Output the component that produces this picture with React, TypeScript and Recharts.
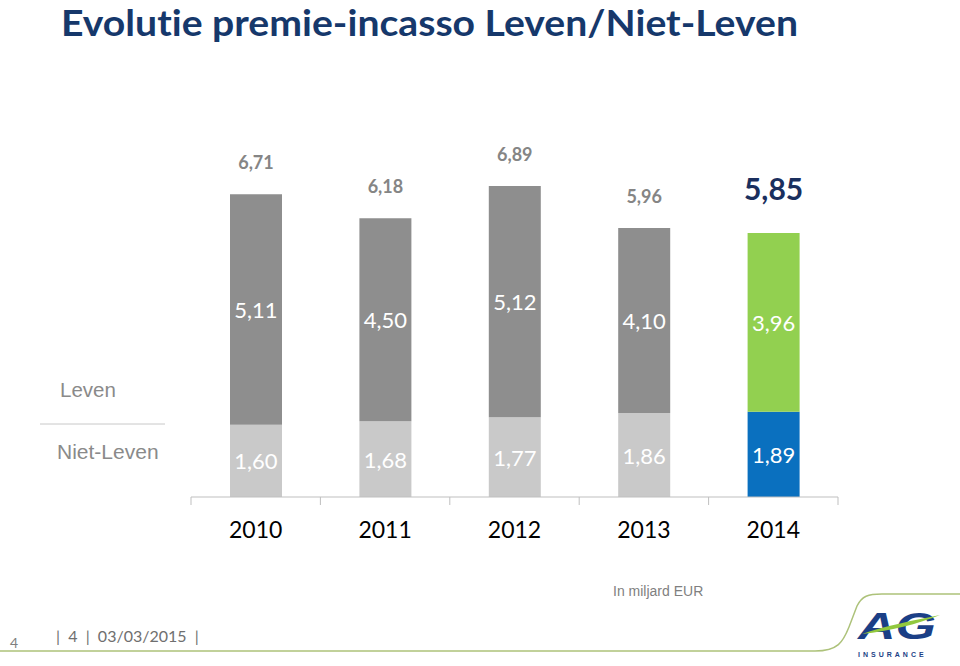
import React from 'react';
import { BarChart, Bar, XAxis, YAxis, Cell, LabelList } from 'recharts';

const years = ['2010', '2011', '2012', '2013', '2014'];
const nietLeven = [1.6, 1.68, 1.77, 1.86, 1.89];
const leven = [5.11, 4.5, 5.12, 4.1, 3.96];
const totals = [6.71, 6.18, 6.89, 5.96, 5.85];

const W = 960;
const H = 666;
const M = { top: 136, right: 122, bottom: 139, left: 191 };
const X_AXIS_H = 30;
const PLOT_W = W - M.left - M.right;
const BAND = PLOT_W / years.length;
const LAST = years.length - 1;

const CAL = 'Lato, "Noto Sans", sans-serif';
const ARIAL = '"Liberation Sans", Arial, sans-serif';

const fmt = (v: number) => v.toFixed(2).replace('.', ',');

const data = years.map((y, i) => ({
  year: y,
  nietLeven: nietLeven[i],
  leven: leven[i],
  total: totals[i],
}));

const InsideLabel = (props: any) => {
  const { x, y, width, height, value } = props;
  return (
    <text
      x={Number(x) + Number(width) / 2}
      y={Number(y) + Number(height) / 2}
      textAnchor="middle"
      dominantBaseline="central"
      fill="#ffffff"
      fontFamily={CAL}
      fontSize={22}
    >
      {fmt(Number(value))}
    </text>
  );
};

const TotalLabel = (props: any) => {
  const { x, y, width, value, index } = props;
  const hi = index === LAST;
  return (
    <text
      x={Number(x) + Number(width) / 2}
      y={Number(y) - (hi ? 45 : 32)}
      textAnchor="middle"
      dominantBaseline="central"
      fill={hi ? '#1a2f5e' : '#858585'}
      fontFamily={CAL}
      fontWeight={700}
      fontSize={hi ? 30 : 18}
    >
      {fmt(Number(value))}
    </text>
  );
};

const YearTick = (props: any) => {
  const { x, y, payload, index } = props;
  const left = x - BAND / 2;
  const right = x + BAND / 2;
  return (
    <g>
      <line x1={left} y1={y} x2={left} y2={y + 8} stroke="#bfbfbf" strokeWidth={1} />
      {index === LAST && (
        <line x1={right} y1={y} x2={right} y2={y + 8} stroke="#bfbfbf" strokeWidth={1} />
      )}
      <text
        x={x}
        y={y + 32}
        textAnchor="middle"
        dominantBaseline="central"
        fill="#000000"
        fontFamily={CAL}
        fontSize={23}
      >
        {payload.value}
      </text>
    </g>
  );
};

export default function App() {
  return (
    <div style={{ position: 'absolute', left: 0, top: 0, width: W, height: H, background: '#ffffff', overflow: 'hidden' }}>
      <svg width={W} height={48} style={{ position: 'absolute', left: 0, top: 0 }}>
        <text
          x={61}
          y={36}
          fill="#16386b"
          fontFamily={CAL}
          fontWeight={700}
          fontSize={36}
          textLength={737}
          lengthAdjust="spacingAndGlyphs"
          style={{ fontVariantLigatures: 'none' }}
        >
          Evolutie premie-incasso Leven/Niet-Leven
        </text>
      </svg>

      <div style={{ position: 'absolute', left: 0, top: 0 }}>
        <BarChart width={W} height={H} data={data} margin={M}>
          <YAxis hide domain={[0, 8]} />
          <XAxis
            dataKey="year"
            height={X_AXIS_H}
            axisLine={{ stroke: '#bfbfbf', strokeWidth: 1 }}
            tickLine={false}
            tickSize={0}
            tickMargin={0}
            interval={0}
            tick={<YearTick />}
          />
          <Bar dataKey="nietLeven" stackId="a" barSize={52} isAnimationActive={false}>
            {data.map((d, i) => (
              <Cell key={d.year} fill={i === LAST ? '#0a70bf' : '#c9c9c9'} />
            ))}
            <LabelList dataKey="nietLeven" content={<InsideLabel />} />
          </Bar>
          <Bar dataKey="leven" stackId="a" barSize={52} isAnimationActive={false}>
            {data.map((d, i) => (
              <Cell key={d.year} fill={i === LAST ? '#92d050' : '#8e8e8e'} />
            ))}
            <LabelList dataKey="leven" content={<InsideLabel />} />
            <LabelList dataKey="total" content={<TotalLabel />} />
          </Bar>
        </BarChart>
      </div>

      <svg
        width={W}
        height={H}
        style={{ position: 'absolute', left: 0, top: 0, pointerEvents: 'none' }}
      >
        <text x={60} y={389} dominantBaseline="central" fill="#8a8a8a" fontFamily={ARIAL} fontSize={20.5}>
          Leven
        </text>
        <line x1={40} y1={424} x2={165} y2={424} stroke="#c8c8c8" strokeWidth={1} />
        <text x={57} y={451} dominantBaseline="central" fill="#8a8a8a" fontFamily={ARIAL} fontSize={21}>
          Niet-Leven
        </text>

        <text x={613} y={591} dominantBaseline="central" fill="#7f7f7f" fontFamily={ARIAL} fontSize={14}>
          In miljard EUR
        </text>

        <text x={10} y={642} dominantBaseline="central" fill="#7f7f7f" fontFamily={CAL} fontSize={14}>
          4
        </text>
        <text x={56} y={635} dominantBaseline="central" fill="#6f6f6f" fontFamily={CAL} fontSize={16} xmlSpace="preserve">
          {'|  4  |  03/03/2015  |'}
        </text>

        <path
          d="M 0 651 L 815 651 C 838 651, 843 642, 849 627 L 857 606 C 862 596, 868 594, 882 594 L 960 594"
          fill="none"
          stroke="#adc27a"
          strokeWidth={1.5}
        />

        <text
          x={858}
          y={639}
          fill="#1b3f86"
          fontFamily={ARIAL}
          fontWeight={700}
          fontStyle="italic"
          fontSize={37}
          textLength={78}
          lengthAdjust="spacingAndGlyphs"
        >
          AG
        </text>
        <path
          d="M 862 634 C 885 626, 915 620, 940 615 C 918 624, 890 631, 862 634 Z"
          fill="#92c83e"
        />
        <text
          x={858}
          y={657}
          fill="#1b3f86"
          fontFamily={ARIAL}
          fontWeight={700}
          fontSize={7}
          letterSpacing={3}
        >
          INSURANCE
        </text>
      </svg>
    </div>
  );
}
